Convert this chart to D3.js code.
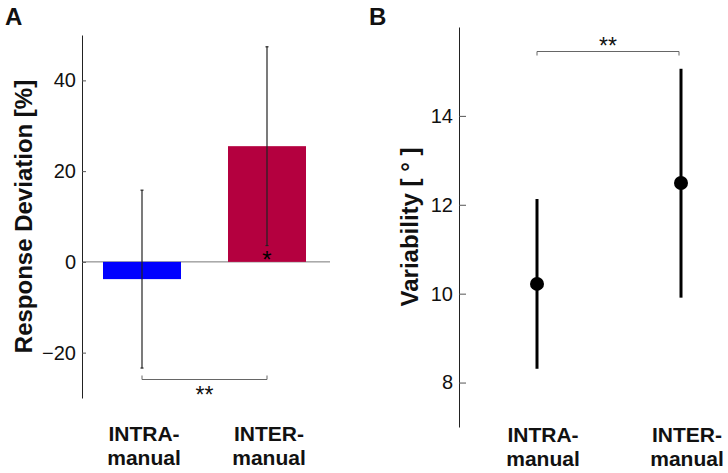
<!DOCTYPE html>
<html>
<head>
<meta charset="utf-8">
<script src="https://cdn.jsdelivr.net/npm/d3@7"></script>
<style>
  html, body { margin: 0; padding: 0; background: #fff; }
  svg { display: block; font-family: "Liberation Sans", Arial, Helvetica, sans-serif; }
</style>
</head>
<body>
<svg id="chart" width="728" height="473"></svg>
<script>
// ---- Data ----
const categories = ["INTRA-manual", "INTER-manual"];
const labelLines = [["INTRA-", "manual"], ["INTER-", "manual"]];

// Panel A: response deviation (%), mean and error extent
const deviationMean = [-3.8, 25.5];
const deviationErr = [19.6, 21.9];
const deviationTicks = [-20, 0, 20, 40];

// Panel B: variability (deg), mean and error extent
const variabilityMean = [10.22, 12.49];
const variabilityLow = [8.31, 9.91];
const variabilityHigh = [12.13, 15.06];
const variabilityTicks = [8, 10, 12, 14];

const barColors = ["#0000ff", "#b4003f"];

const svg = d3.select("#chart");

// ================= Panel A =================
const yA = d3.scaleLinear().domain([-30, 50]).range([398, 35]);
const xA = d3.scaleBand().domain(categories).range([79.5, 329.5])
  .paddingInner(0.376).paddingOuter(0.188);
const axLeftA = 82;

const gA = svg.append("g");

// zero line
gA.append("line")
  .attr("x1", axLeftA).attr("x2", 330)
  .attr("y1", yA(0)).attr("y2", yA(0))
  .attr("stroke", "#777").attr("stroke-width", 1);

// bars
gA.selectAll("rect.bar").data(categories).join("rect")
  .attr("class", "bar")
  .attr("x", d => xA(d))
  .attr("width", xA.bandwidth())
  .attr("y", (d, i) => yA(Math.max(0, deviationMean[i])))
  .attr("height", (d, i) => Math.abs(yA(deviationMean[i]) - yA(0)))
  .attr("fill", (d, i) => barColors[i]);

// error bars
categories.forEach((c, i) => {
  const cx = xA(c) + xA.bandwidth() / 2;
  const lo = deviationMean[i] - deviationErr[i];
  const hi = deviationMean[i] + deviationErr[i];
  gA.append("line").attr("x1", cx).attr("x2", cx)
    .attr("y1", yA(lo)).attr("y2", yA(hi))
    .attr("stroke", "#222").attr("stroke-width", 1.2);
  [lo, hi].forEach(v => {
    gA.append("line").attr("x1", cx - 1.5).attr("x2", cx + 1.5)
      .attr("y1", yA(v)).attr("y2", yA(v))
      .attr("stroke", "#222").attr("stroke-width", 1.2);
  });
});

// asterisk in INTER bar
gA.append("text")
  .attr("x", xA(categories[1]) + xA.bandwidth() / 2)
  .attr("y", 268)
  .attr("text-anchor", "middle")
  .attr("font-size", 24)
  .attr("fill", "#000")
  .text("*");

// y axis
const axisA = d3.axisLeft(yA).tickValues(deviationTicks)
  .tickSizeInner(-4).tickSizeOuter(0).tickPadding(6);
const gAxA = gA.append("g").attr("transform", `translate(${axLeftA},0)`).call(axisA);
gAxA.select(".domain").attr("stroke", "#222");
gAxA.selectAll(".tick line").attr("stroke", "#555");
gAxA.selectAll(".tick text").attr("font-size", 20).attr("fill", "#111")
  .attr("font-family", "Liberation Sans, Arial, sans-serif");

// significance bracket A
{
  const x1 = xA(categories[0]) + xA.bandwidth() / 2;
  const x2 = xA(categories[1]) + xA.bandwidth() / 2;
  const yb = 379.5;
  gA.append("path")
    .attr("d", `M${x1},${yb - 4}V${yb}H${x2}V${yb - 4}`)
    .attr("fill", "none").attr("stroke", "#666").attr("stroke-width", 1);
  gA.append("text").attr("x", (x1 + x2) / 2).attr("y", 403)
    .attr("text-anchor", "middle").attr("font-size", 23).attr("fill", "#111")
    .text("**");
}

// x labels A
categories.forEach((c, i) => {
  const cx = xA(c) + xA.bandwidth() / 2 + 2;
  labelLines[i].forEach((t, k) => {
    gA.append("text").attr("x", cx).attr("y", 441 + k * 24)
      .attr("text-anchor", "middle").attr("font-size", 21).attr("font-weight", "bold")
      .attr("fill", "#111").text(t);
  });
});

// y title A
gA.append("text")
  .attr("transform", `translate(32,${(35 + 398) / 2}) rotate(-90)`)
  .attr("text-anchor", "middle").attr("font-size", 24).attr("font-weight", "bold")
  .attr("fill", "#111").text("Response Deviation [%]");

// panel letter
svg.append("text").attr("x", 5).attr("y", 25).attr("font-size", 24)
  .attr("font-weight", "bold").attr("fill", "#111").text("A");

// ================= Panel B =================
const yB = d3.scaleLinear().domain([7, 16]).range([427, 27]);
const xB = d3.scalePoint().domain(categories).range([537, 681]);
const axLeftB = 459;
const gB = svg.append("g");

const axisB = d3.axisLeft(yB).tickValues(variabilityTicks)
  .tickSizeInner(-7).tickSizeOuter(0).tickPadding(6);
const gAxB = gB.append("g").attr("transform", `translate(${axLeftB},0)`).call(axisB);
gAxB.select(".domain").attr("stroke", "#222");
gAxB.selectAll(".tick line").attr("stroke", "#555");
gAxB.selectAll(".tick text").attr("font-size", 20).attr("fill", "#111")
  .attr("font-family", "Liberation Sans, Arial, sans-serif");

// error lines + points
categories.forEach((c, i) => {
  gB.append("line").attr("x1", xB(c)).attr("x2", xB(c))
    .attr("y1", yB(variabilityLow[i])).attr("y2", yB(variabilityHigh[i]))
    .attr("stroke", "#000").attr("stroke-width", 3);
});
gB.selectAll("circle").data(categories).join("circle")
  .attr("cx", d => xB(d))
  .attr("cy", (d, i) => yB(variabilityMean[i]))
  .attr("r", 7).attr("fill", "#000");

// significance bracket B
{
  const x1 = xB(categories[0]);
  const x2 = xB(categories[1]) - 2;
  const yb = 51.5;
  gB.append("path")
    .attr("d", `M${x1},${yb + 4}V${yb}H${x2}V${yb + 4}`)
    .attr("fill", "none").attr("stroke", "#666").attr("stroke-width", 1);
  gB.append("text").attr("x", (x1 + x2) / 2).attr("y", 54)
    .attr("text-anchor", "middle").attr("font-size", 23).attr("fill", "#111")
    .text("**");
}

// x labels B
categories.forEach((c, i) => {
  const cx = xB(c) + 6;
  labelLines[i].forEach((t, k) => {
    gB.append("text").attr("x", cx).attr("y", 442 + k * 24)
      .attr("text-anchor", "middle").attr("font-size", 21).attr("font-weight", "bold")
      .attr("fill", "#111").text(t);
  });
});

// y title B
gB.append("text")
  .attr("transform", `translate(418,${(27 + 427) / 2}) rotate(-90)`)
  .attr("text-anchor", "middle").attr("font-size", 24).attr("font-weight", "bold")
  .attr("fill", "#111").text("Variability [ ° ]");

svg.append("text").attr("x", 369).attr("y", 25).attr("font-size", 24)
  .attr("font-weight", "bold").attr("fill", "#111").text("B");
</script>
</body>
</html>
